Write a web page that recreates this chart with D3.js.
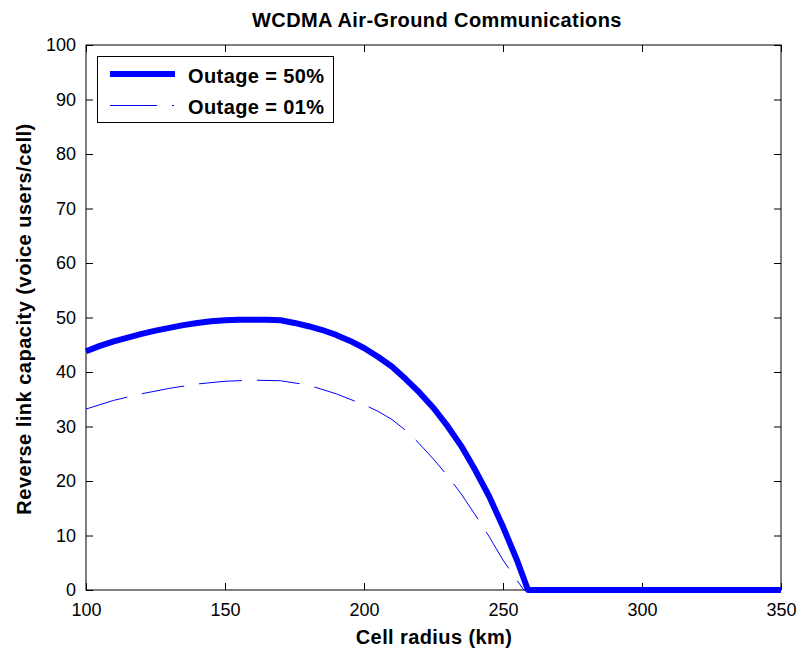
<!DOCTYPE html>
<html>
<head>
<meta charset="utf-8">
<script src="https://cdn.jsdelivr.net/npm/d3@7"></script>
<style>
  html, body { margin: 0; padding: 0; background: #fff; }
  svg { display: block; font-family: "Liberation Sans", Arial, sans-serif; }
</style>
</head>
<body>
<svg id="chart" width="801" height="649"></svg>
<script>
// ---- data ----
const title = "WCDMA Air-Ground Communications";
const xLabel = "Cell radius (km)";
const yLabel = "Reverse link capacity (voice users/cell)";
const seriesNames = ["Outage = 50%", "Outage = 01%"];

const radius50 = [100,105,110,115,120,125,130,135,140,145,150,155,160,165,170,175,180,185,190,195,200,205,210,215,220,225,230,235,240,245,250,255,259,270,300,350];
const capacity50 = [43.8,44.8,45.6,46.3,47.0,47.6,48.1,48.6,49.0,49.3,49.5,49.6,49.6,49.6,49.5,49.0,48.4,47.7,46.8,45.7,44.4,42.8,41.0,38.7,36.2,33.4,30.1,26.4,22.0,17.2,11.6,5.5,0,0,0,0];

const radius01 = [100,110,120,130,140,150,160,170,180,190,200,205,210,215,220,225,230,235,240,245,250,255,257.5,300,350];
const capacity01 = [33.2,34.8,36.0,37.0,37.8,38.3,38.5,38.4,37.6,36.0,34.0,32.8,31.3,29.3,26.8,24.0,21.0,17.6,13.8,9.8,5.5,1.8,0,0,0];

const xTicks = [100,150,200,250,300,350];
const yTicks = [0,10,20,30,40,50,60,70,80,90,100];

// ---- layout ----
const L = 86, R = 781, T = 45, B = 590;
const svg = d3.select("#chart");
const x = d3.scaleLinear().domain([100,350]).range([L,R]);
const y = d3.scaleLinear().domain([0,100]).range([B,T]);
const blue = "#0000ff";

// frame
svg.append("rect").attr("x",L).attr("y",T).attr("width",R-L).attr("height",B-T)
  .attr("fill","#fff").attr("stroke","#000").attr("stroke-width",1);

// axes with inward ticks
function styleAxis(g){
  g.select(".domain").remove();
  g.selectAll("line").attr("stroke","#000");
  g.selectAll("text").attr("fill","#000").style("font-size","18px");
}
svg.append("g").attr("transform",`translate(0,${B})`)
  .call(d3.axisBottom(x).tickValues(xTicks).tickSize(-7).tickPadding(13).tickFormat(d3.format("d")))
  .call(styleAxis);
svg.append("g").attr("transform",`translate(0,${T})`)
  .call(d3.axisTop(x).tickValues(xTicks).tickSize(-7).tickFormat(""))
  .call(styleAxis);
svg.append("g").attr("transform",`translate(${L},0)`)
  .call(d3.axisLeft(y).tickValues(yTicks).tickSize(-7).tickPadding(10).tickFormat(d3.format("d")))
  .call(styleAxis);
svg.append("g").attr("transform",`translate(${R},0)`)
  .call(d3.axisRight(y).tickValues(yTicks).tickSize(-7).tickFormat(""))
  .call(styleAxis);

// lines
const line = d3.line().x(d=>x(d[0])).y(d=>y(d[1]));

svg.append("path").datum(d3.zip(radius01,capacity01))
  .attr("d",line).attr("fill","none").attr("stroke",blue).attr("stroke-width",1)
  .attr("stroke-dasharray","43,15");
svg.append("path").datum(d3.zip(radius50,capacity50))
  .attr("d",line).attr("fill","none").attr("stroke",blue).attr("stroke-width",6)
  .attr("stroke-linejoin","round");

// legend
const lg = svg.append("g");
lg.append("rect").attr("x",97.5).attr("y",56.5).attr("width",236).attr("height",66)
  .attr("fill","#fff").attr("stroke","#000").attr("stroke-width",1);
lg.append("line").attr("x1",110).attr("x2",175).attr("y1",74).attr("y2",74)
  .attr("stroke",blue).attr("stroke-width",6);
lg.append("line").attr("x1",110).attr("x2",175).attr("y1",105.5).attr("y2",105.5)
  .attr("stroke",blue).attr("stroke-width",1).attr("stroke-dasharray","47,15,2,20");
lg.selectAll("text.leg").data(seriesNames).enter().append("text")
  .attr("x",188).attr("y",(d,i)=>82.5+i*31)
  .style("font-size","20px").style("font-weight","bold").style("letter-spacing","0.4px")
  .text(d=>d);

// title and labels
svg.append("text").attr("x",437).attr("y",27).attr("text-anchor","middle")
  .style("font-size","20px").style("font-weight","bold").style("letter-spacing","0.4px")
  .text(title);
svg.append("text").attr("x",434).attr("y",644).attr("text-anchor","middle")
  .style("font-size","20px").style("font-weight","bold").style("letter-spacing","0.4px")
  .text(xLabel);
svg.append("text").attr("transform","translate(31,319) rotate(-90)").attr("text-anchor","middle")
  .style("font-size","20px").style("font-weight","bold").style("letter-spacing","0.5px")
  .text(yLabel);
</script>
</body>
</html>
